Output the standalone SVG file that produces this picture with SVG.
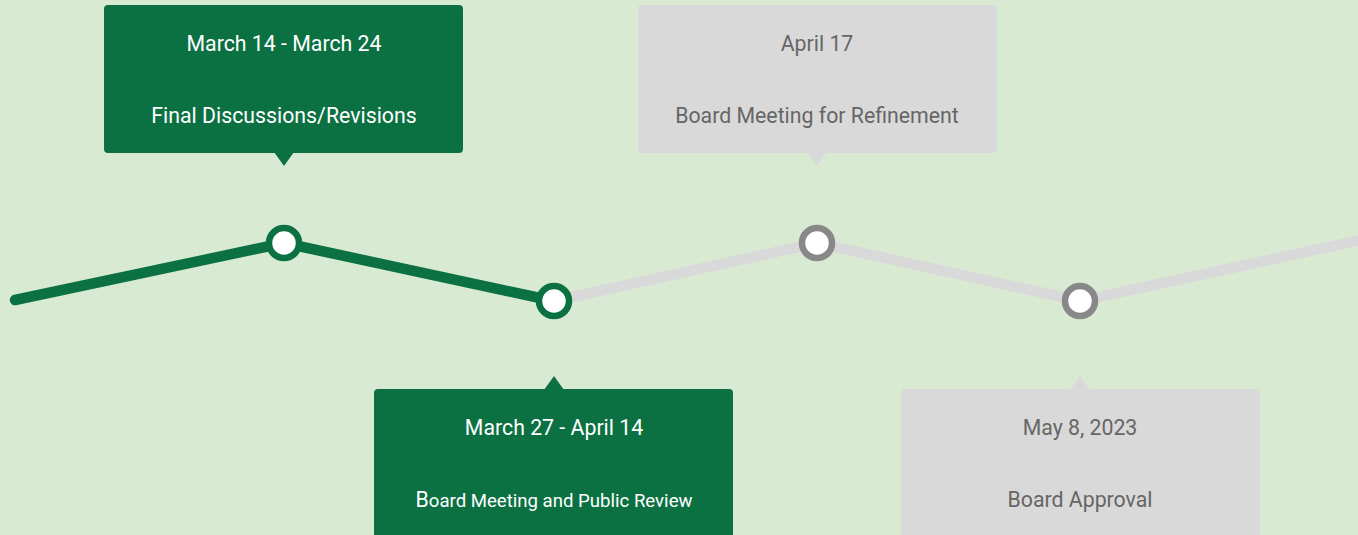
<svg xmlns="http://www.w3.org/2000/svg" width="1358" height="535" viewBox="0 0 1358 535">
<style>
.txt{font-family:Roboto,"Liberation Sans",sans-serif;font-size:21.3px;text-anchor:middle}
.g .box{fill:#0b7142}
.g .txt{fill:#ffffff}
.n .box{fill:#d9d9d9}
.n .txt{fill:#666666}
.dotg{fill:#ffffff;stroke:#0b7142;stroke-width:6.5}
.dotn{fill:#ffffff;stroke:#888888;stroke-width:6.5}
</style>
<rect x="0" y="0" width="1358" height="535" fill="#d9ead3"/>
<g id="connectors" fill="none" stroke-linecap="round" stroke-linejoin="round" stroke-width="10.5">
<polyline points="554,301 817,243 1080,301 1370,238" stroke="#d9d9d9"/>
<polyline points="15,300 284,243 554,301" stroke="#0b7142"/>
</g>
<g id="dots">
<circle class="dotg" cx="284" cy="243" r="15"/>
<circle class="dotg" cx="554" cy="301" r="15"/>
<circle class="dotn" cx="817" cy="243" r="15"/>
<circle class="dotn" cx="1080" cy="301" r="15"/>
</g>
<g id="node1" class="g">
<rect class="box" x="104" y="5" width="359" height="148" rx="4"/>
<polygon class="box" points="274,152 294,152 284,166"/>
<text class="txt" x="284" y="51">March 14 - March 24</text>
<text class="txt" x="284" y="123">Final Discussions/Revisions</text>
</g>
<g id="node2" class="g">
<rect class="box" x="374" y="389" width="359" height="160" rx="4"/>
<polygon class="box" points="544,390 564,390 554,376"/>
<text class="txt" x="554" y="435">March 27 - April 14</text>
<text class="txt" x="554" y="507" style="font-size:18.6px"><tspan style="font-size:21.3px">B</tspan>oard Meeting and Public Review</text>
</g>
<g id="node3" class="n">
<rect class="box" x="638" y="5" width="359" height="148" rx="4"/>
<polygon class="box" points="807,152 827,152 817,166"/>
<text class="txt" x="817" y="51">April 17</text>
<text class="txt" x="817" y="123">Board Meeting for Refinement</text>
</g>
<g id="node4" class="n">
<rect class="box" x="901" y="389" width="359" height="160" rx="4"/>
<polygon class="box" points="1070,390 1090,390 1080,376"/>
<text class="txt" x="1080" y="435">May 8, 2023</text>
<text class="txt" x="1080" y="507">Board Approval</text>
</g>
</svg>
